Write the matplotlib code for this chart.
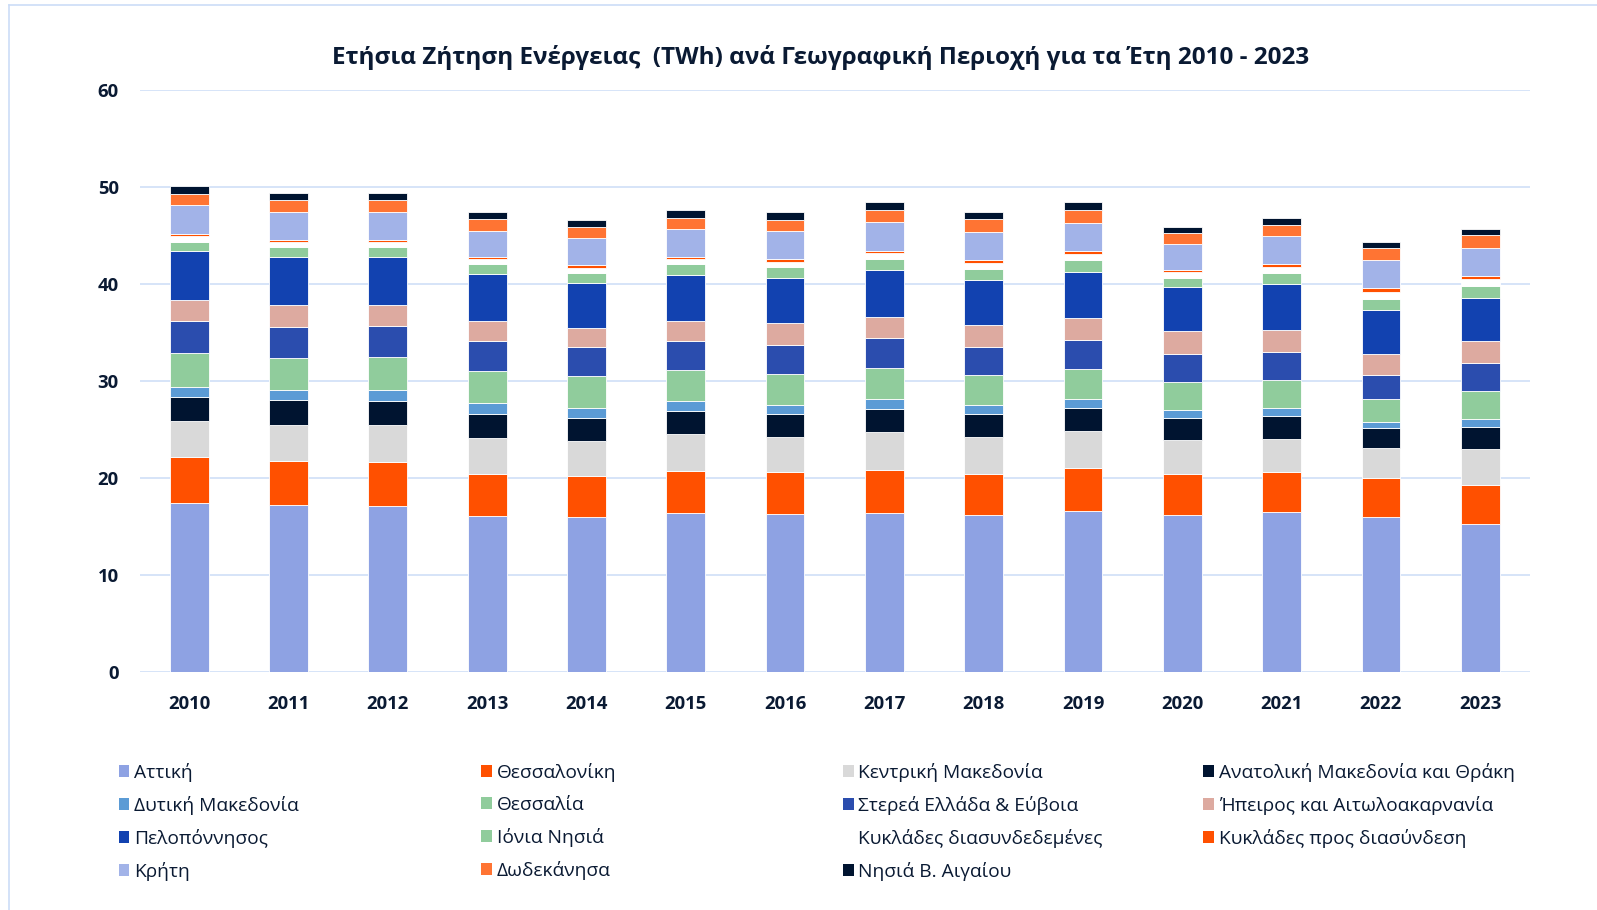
import matplotlib
matplotlib.use("Agg")
import matplotlib.pyplot as plt
from matplotlib.patches import Patch
from matplotlib.lines import Line2D
import numpy as np

plt.rcParams['font.family'] = ['Open Sans', 'DejaVu Sans']

# data (TWh)
years = ['2010', '2011', '2012', '2013', '2014', '2015', '2016',
         '2017', '2018', '2019', '2020', '2021', '2022', '2023']

attiki       = [17.4, 17.2, 17.1, 16.05, 16.0, 16.4, 16.3, 16.4, 16.2, 16.6, 16.2, 16.55, 16.0, 15.25]
thessaloniki = [4.8, 4.6, 4.55, 4.35, 4.25, 4.35, 4.3, 4.45, 4.25, 4.45, 4.2, 4.05, 4.0, 4.0]
kentr_mak    = [3.7, 3.7, 3.8, 3.7, 3.55, 3.8, 3.65, 3.9, 3.8, 3.8, 3.5, 3.45, 3.1, 3.7]
anat_mak     = [2.5, 2.5, 2.5, 2.5, 2.4, 2.35, 2.35, 2.35, 2.35, 2.35, 2.25, 2.3, 2.05, 2.35]
dyt_mak      = [1.0, 1.1, 1.1, 1.1, 1.05, 1.05, 0.95, 1.05, 0.95, 0.9, 0.9, 0.85, 0.65, 0.8]
thessalia    = [3.5, 3.3, 3.4, 3.35, 3.25, 3.15, 3.2, 3.15, 3.05, 3.15, 2.85, 2.85, 2.3, 2.9]
sterea       = [3.3, 3.2, 3.2, 3.05, 3.0, 3.0, 3.0, 3.1, 2.9, 3.0, 2.9, 2.95, 2.55, 2.9]
ipeiros      = [2.1, 2.2, 2.15, 2.1, 2.0, 2.05, 2.2, 2.2, 2.3, 2.25, 2.3, 2.25, 2.15, 2.2]
peloponnisos = [5.1, 4.95, 4.95, 4.8, 4.6, 4.75, 4.7, 4.8, 4.6, 4.7, 4.6, 4.75, 4.55, 4.45]
ionia        = [0.9, 1.0, 1.0, 1.05, 1.0, 1.1, 1.05, 1.15, 1.15, 1.25, 0.95, 1.1, 1.1, 1.2]
kykl_diasyn  = [0.6, 0.6, 0.6, 0.5, 0.55, 0.6, 0.6, 0.6, 0.6, 0.6, 0.6, 0.65, 0.75, 0.7]
kykl_pros    = [0.2, 0.2, 0.2, 0.2, 0.3, 0.2, 0.25, 0.25, 0.3, 0.35, 0.2, 0.3, 0.35, 0.35]
kriti        = [3.0, 2.85, 2.85, 2.7, 2.75, 2.8, 2.85, 2.95, 2.9, 2.85, 2.7, 2.85, 2.9, 2.85]
dodekanisa   = [1.2, 1.2, 1.2, 1.2, 1.15, 1.2, 1.2, 1.25, 1.3, 1.35, 1.05, 1.15, 1.25, 1.35]
v_aigaio     = [0.8, 0.8, 0.8, 0.7, 0.75, 0.8, 0.8, 0.8, 0.8, 0.8, 0.65, 0.7, 0.65, 0.65]

series = [
    ('Αττική', attiki, '#8EA2E3'),
    ('Θεσσαλονίκη', thessaloniki, '#FF5000'),
    ('Κεντρική Μακεδονία', kentr_mak, '#D9D9D9'),
    ('Ανατολική Μακεδονία και Θράκη', anat_mak, '#001430'),
    ('Δυτική Μακεδονία', dyt_mak, '#5B9BD5'),
    ('Θεσσαλία', thessalia, '#90CC9C'),
    ('Στερεά Ελλάδα & Εύβοια', sterea, '#2B4DAE'),
    ('Ήπειρος και Αιτωλοακαρνανία', ipeiros, '#DDAAA0'),
    ('Πελοπόννησος', peloponnisos, '#1242B0'),
    ('Ιόνια Νησιά', ionia, '#90CC9C'),
    ('Κυκλάδες διασυνδεδεμένες', kykl_diasyn, '#FFFFFF'),
    ('Κυκλάδες προς διασύνδεση', kykl_pros, '#FF5000'),
    ('Κρήτη', kriti, '#A2B3E8'),
    ('Δωδεκάνησα', dodekanisa, '#FF7433'),
    ('Νησιά Β. Αιγαίου', v_aigaio, '#001430'),
]

txt = '#0A1A33'

fig = plt.figure(figsize=(15.97, 9.1), dpi=100)
ax = fig.add_axes([0.0874, 0.2612, 0.8706, 0.6403])

x = np.arange(len(years))
bottom = np.zeros(len(years))
for name, vals, col in series:
    ax.bar(x, vals, 0.39, bottom=bottom, color=col, edgecolor='white',
           linewidth=0.6, label=name, zorder=3)
    bottom += np.array(vals)

ax.set_xlim(-0.5, 13.5)
ax.set_ylim(0, 60)
ax.set_yticks(range(0, 61, 10))
ax.set_xticks(x)
ax.set_xticklabels(years)
ax.tick_params(axis='both', length=0, labelsize=13.3, labelcolor=txt)
ax.tick_params(axis='y', pad=15)
ax.tick_params(axis='x', pad=16)
for lab in ax.get_xticklabels() + ax.get_yticklabels():
    lab.set_fontweight('bold')
ax.grid(axis='y', color='#CCDDF7', linewidth=1.1, zorder=0)
for s in ax.spines.values():
    s.set_visible(False)

fig.text(0.514, 0.937, 'Ετήσια Ζήτηση Ενέργειας  (TWh) ανά Γεωγραφική Περιοχή για τα Έτη 2010 - 2023',
         ha='center', va='center', fontsize=17.5, fontweight='bold', color=txt)

# legend, laid out row by row in 4 columns
col_x = [0.0743, 0.3013, 0.5279, 0.7536]
handles = [Patch(facecolor=c, edgecolor='none') for _, _, c in series]
names = [n for n, _, _ in series]
for c in range(4):
    idx = list(range(c, len(series), 4))
    fig.legend([handles[i] for i in idx], [names[i] for i in idx],
               loc='upper left', bbox_to_anchor=(col_x[c], 0.162),
               frameon=False, fontsize=13.8, labelcolor=txt,
               handlelength=0.55, handleheight=0.6, handletextpad=0.25,
               labelspacing=0.73, borderpad=0, borderaxespad=0)

# frame edges (left and top) of the original image
fig.add_artist(Line2D([0.0056, 0.0056], [0, 0.9945], color='#CCDDF7', lw=1.2))
fig.add_artist(Line2D([0.0056, 1], [0.9945, 0.9945], color='#CCDDF7', lw=1.2))

fig.savefig('out.png', dpi=100)
